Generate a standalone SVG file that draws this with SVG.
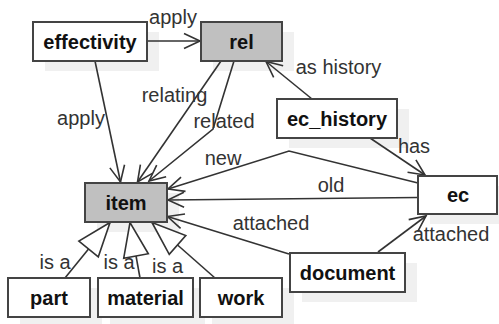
<svg xmlns="http://www.w3.org/2000/svg" width="499" height="324" viewBox="0 0 499 324">
  <style>
    .shadow { fill: #000; fill-opacity: 0.06; stroke: none; }
    .box { fill: #fff; stroke: #444; stroke-width: 2; }
    .box.abstract { fill: #c0c0c0; }
    .name { font-family: "Liberation Sans", Arial, sans-serif; font-size: 20px; font-weight: bold; fill: #111; text-anchor: middle; }
    .edge { fill: none; stroke: #333; stroke-width: 1.6; }
    .label { font-family: "Liberation Sans", Arial, sans-serif; font-size: 20px; fill: #333; text-anchor: middle; }
  </style>
  <defs>
    <marker id="open" viewBox="-18 -9 20 18" refX="0" refY="0" markerWidth="20" markerHeight="18" markerUnits="userSpaceOnUse" orient="auto">
      <path d="M-16,-7.5 L0,0 L-16,7.5" fill="none" stroke="#333" stroke-width="1.6"/>
    </marker>
    <marker id="isa" viewBox="-36 -14 38 28" refX="0" refY="0" markerWidth="38" markerHeight="28" markerUnits="userSpaceOnUse" orient="auto">
      <path d="M0,0 L-34,-12.5 L-34,12.5 Z" fill="#fff" stroke="#333" stroke-width="1.6" stroke-linejoin="miter"/>
    </marker>
  </defs>

  <rect width="499" height="324" fill="#fff"/>

  <!-- drop shadows -->
  <g id="shadows">
    <rect class="shadow" x="45" y="32" width="114" height="39"/>
    <rect class="shadow" x="213" y="32" width="81" height="39"/>
    <rect class="shadow" x="289" y="109" width="120" height="39"/>
    <rect class="shadow" x="97" y="193" width="82" height="39"/>
    <rect class="shadow" x="430" y="186" width="79" height="38"/>
    <rect class="shadow" x="302" y="263" width="115" height="39"/>
    <rect class="shadow" x="20" y="288" width="82" height="39"/>
    <rect class="shadow" x="110" y="288" width="95" height="39"/>
    <rect class="shadow" x="212" y="288" width="82" height="39"/>
  </g>

  <!-- connectors -->
  <g id="connectors">
    <line class="edge" x1="147" y1="41" x2="200" y2="41" marker-end="url(#open)"/>
    <line class="edge" x1="95" y1="61" x2="120.5" y2="182" marker-end="url(#open)"/>
    <line class="edge" x1="221" y1="61" x2="137.5" y2="182" marker-end="url(#open)"/>
    <polyline class="edge" points="234,61 213,129 149,181" marker-end="url(#open)"/>
    <line class="edge" x1="312" y1="99" x2="266" y2="61.5" marker-end="url(#open)"/>
    <line class="edge" x1="370" y1="138" x2="425" y2="175" marker-end="url(#open)"/>
    <polyline class="edge" points="418,183 289,151 168,189" marker-end="url(#open)"/>
    <line class="edge" x1="418" y1="197.5" x2="168" y2="200" marker-end="url(#open)"/>
    <line class="edge" x1="289" y1="254" x2="167.5" y2="216.5" marker-end="url(#open)"/>
    <line class="edge" x1="378" y1="252" x2="426" y2="216" marker-end="url(#open)"/>
    <line class="edge" x1="65" y1="278" x2="110" y2="222.5" marker-end="url(#isa)"/>
    <line class="edge" x1="140" y1="278" x2="130" y2="222.5" marker-end="url(#isa)"/>
    <line class="edge" x1="215" y1="278" x2="152" y2="222.5" marker-end="url(#isa)"/>

    <text class="label" x="173" y="24">apply</text>
    <text class="label" x="81" y="125">apply</text>
    <text class="label" x="174.5" y="101.5">relating</text>
    <text class="label" x="224" y="128">related</text>
    <text class="label" x="338.5" y="74">as history</text>
    <text class="label" x="414" y="153">has</text>
    <text class="label" x="223" y="165">new</text>
    <text class="label" x="331" y="191.5">old</text>
    <text class="label" x="271" y="230">attached</text>
    <text class="label" x="451" y="240.5">attached</text>
    <text class="label" x="55" y="269">is a</text>
    <text class="label" x="119" y="269">is a</text>
    <text class="label" x="167.5" y="273">is a</text>
  </g>

  <!-- nodes -->
  <g id="effectivity">
    <rect class="box" x="33" y="22" width="114" height="39"/>
    <text class="name" x="90" y="49">effectivity</text>
  </g>
  <g id="rel">
    <rect class="box abstract" x="201" y="22" width="81" height="39"/>
    <text class="name" x="241.5" y="49">rel</text>
  </g>
  <g id="ec_history">
    <rect class="box" x="277" y="99" width="120" height="39"/>
    <text class="name" x="337" y="126">ec_history</text>
  </g>
  <g id="item">
    <rect class="box abstract" x="85" y="183" width="82" height="39"/>
    <text class="name" x="126" y="209.5">item</text>
  </g>
  <g id="ec">
    <rect class="box" x="418" y="176" width="79" height="38"/>
    <text class="name" x="458" y="202">ec</text>
  </g>
  <g id="document">
    <rect class="box" x="290" y="253" width="115" height="39"/>
    <text class="name" x="347.5" y="280">document</text>
  </g>
  <g id="part">
    <rect class="box" x="8" y="278" width="82" height="39"/>
    <text class="name" x="49" y="305">part</text>
  </g>
  <g id="material">
    <rect class="box" x="98" y="278" width="95" height="39"/>
    <text class="name" x="145.5" y="305">material</text>
  </g>
  <g id="work">
    <rect class="box" x="200" y="278" width="82" height="39"/>
    <text class="name" x="241" y="305">work</text>
  </g>
</svg>
